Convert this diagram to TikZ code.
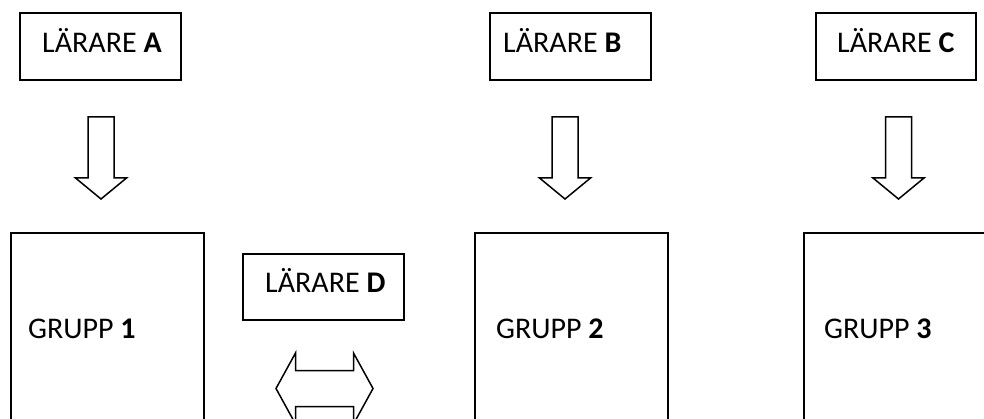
\documentclass[tikz,border=0pt]{standalone}
\usepackage{fontspec}
\setmainfont{Carlito}
\begin{document}
\begin{tikzpicture}[x=1pt,y=-1pt,
  box/.style={draw=black, line width=1.7pt, inner sep=0pt, anchor=north west},
  lbl/.style={anchor=base west, inner sep=0pt, font=\fontsize{30}{36}\selectfont},
  arr/.style={draw=black, line width=1.5pt, line join=miter, fill=white},
  downarr/.pic={\draw[arr] (-13,0) -- (13,0) -- (13,61) -- (25.5,61) -- (0,82) -- (-25.5,61) -- (-13,61) -- cycle;}]
\clip (0,0) rectangle (984,419);
\fill[white] (0,0) rectangle (984,419);
% teacher boxes
\node[box, minimum width=161pt, minimum height=67pt] (A) at (19,12) {};
\node[box, minimum width=161pt, minimum height=67pt] (B) at (489,12) {};
\node[box, minimum width=160pt, minimum height=67pt] (C) at (815,12) {};
\node[box, minimum width=161pt, minimum height=66pt] (D) at (242,253) {};
% group boxes (cut off by the lower and right edges)
\node[box, minimum width=193pt, minimum height=300pt] (G1) at (10,232) {};
\node[box, minimum width=193pt, minimum height=300pt] (G2) at (474,232) {};
\node[box, minimum width=260pt, minimum height=300pt] (G3) at (803,232) {};
% labels
\node[lbl] (tA) at (42,52.5) {LÄRARE \textbf{A}};
\node[lbl] (tB) at (503,52.5) {LÄRARE \textbf{B}};
\node[lbl] (tC) at (837,52.5) {LÄRARE \textbf{C}};
\node[lbl] (tD) at (265,293) {LÄRARE \textbf{D}};
\node[lbl] (t1) at (28,338) {GRUPP \textbf{1}};
\node[lbl] (t2) at (496,338) {GRUPP \textbf{2}};
\node[lbl] (t3) at (824,338) {GRUPP \textbf{3}};
% block arrows
\pic (arrA) at (101,117) {downarr};
\pic (arrB) at (565,117) {downarr};
\pic (arrC) at (898.5,117) {downarr};
\draw[arr] (276,388.5) -- (295.5,353) -- (295.5,370.5) -- (353.5,370.5) -- (353.5,353)
  -- (373,388.5) -- (353.5,424) -- (353.5,406.5) -- (295.5,406.5) -- (295.5,424) -- cycle;
\end{tikzpicture}
\end{document}
